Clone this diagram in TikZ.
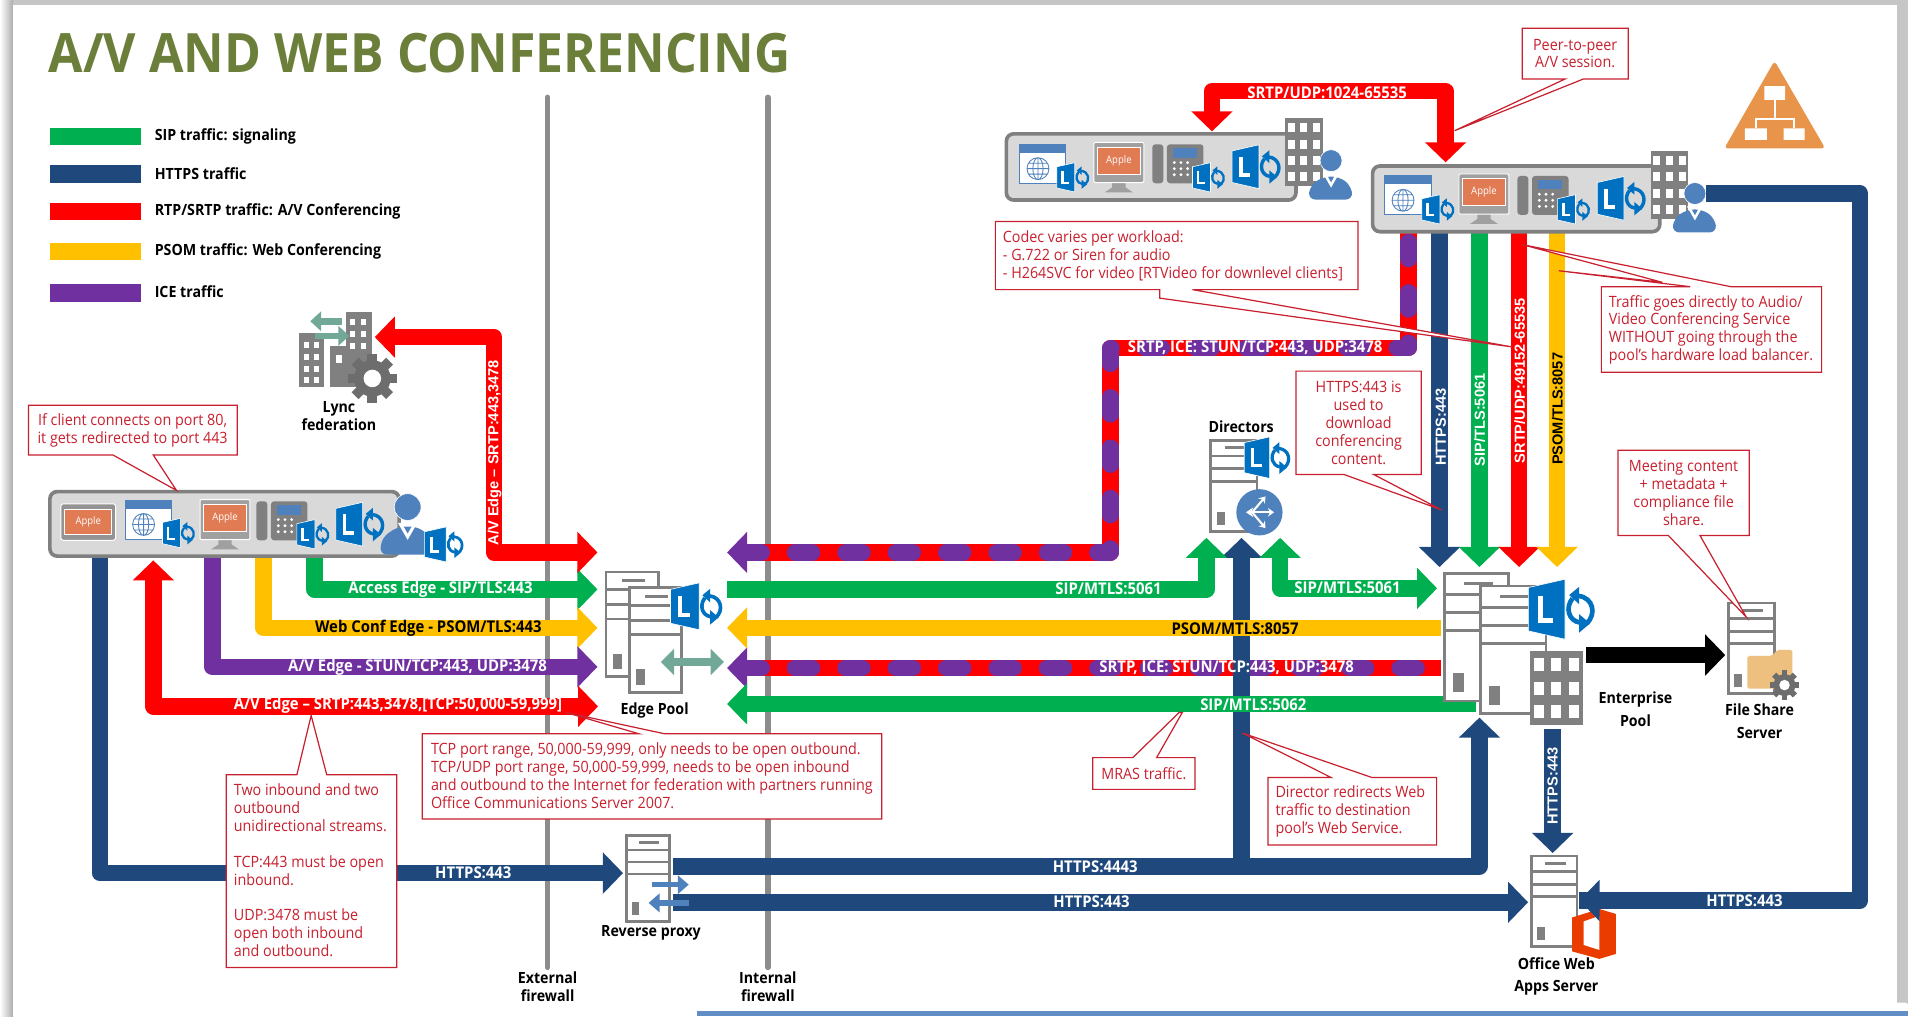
\documentclass[tikz,border=0pt]{standalone}
\usepackage{fontspec}
\setmainfont{Open Sans}[FakeStretch=0.92]
\newfontfamily\arialish{Liberation Sans}
\usetikzlibrary{arrows.meta,calc}
\definecolor{gr}{HTML}{00B050}\definecolor{nv}{HTML}{1F497D}\definecolor{rd}{HTML}{FF0000}
\definecolor{yl}{HTML}{FFC000}\definecolor{pu}{HTML}{7030A0}\definecolor{fw}{HTML}{8C8C8C}
\definecolor{co}{HTML}{C8202F}\definecolor{ttl}{HTML}{6B7F3A}\definecolor{lb}{HTML}{0070C0}
\definecolor{ub}{HTML}{4F81BD}\definecolor{ig}{HTML}{808080}\definecolor{scr}{HTML}{E07B54}
\definecolor{tl}{HTML}{72A898}\definecolor{org}{HTML}{E8944A}\definecolor{fold}{HTML}{EDC07F}
\definecolor{off}{HTML}{EB3C00}\definecolor{bx}{HTML}{D9D9D9}
\tikzset{
 bigtip/.tip={Triangle[width=33pt,length=16.5pt]},
 flow/.style={line width=13.5pt,line join=round},
 thinflow/.style={line width=13.5pt},
 dashice/.style={pu,line width=13.5pt,line cap=round,line join=round,dash pattern=on 14pt off 27.4pt},
 lw/.style={text=white,font=\bfseries\fontsize{13.3}{14}\selectfont,inner sep=0pt},
 lk/.style={text=black,font=\bfseries\fontsize{13.3}{14}\selectfont,inner sep=0pt},
 rotw/.style={text=white,rotate=90,font=\arialish\bfseries\fontsize{12}{14}\selectfont,inner sep=0pt},
 rotk/.style={text=black,rotate=90,font=\arialish\bfseries\fontsize{12}{14}\selectfont,inner sep=0pt},
 capt/.style={text=black,font=\bfseries\fontsize{12.7}{14.5}\selectfont,align=center,inner sep=0pt},
 capwide/.style={text=black,font=\bfseries\fontsize{12.7}{18.5}\selectfont,align=center,inner sep=0pt},
 legtxt/.style={text=black,font=\bfseries\fontsize{12.7}{14}\selectfont,anchor=west,inner sep=0pt},
 cotxt/.style={text=co,font=\fontsize{12.8}{14.7}\selectfont,inner sep=0pt},
 coline/.style={draw=co,fill=white,line width=1pt,line join=miter},
 clientbox/.style={draw=ig,fill=bx,line width=3pt,rounded corners=6pt},
 fwline/.style={draw=fw,line width=4.5pt,line cap=round},
}
% Lync icon, box 39x36 at scale 1
\newcommand\lyncico[3]{\begin{scope}[shift={(#1,#2)},scale=#3]
 \filldraw[fill=lb,draw=white,line width=.5pt] (0,5)--(22,0)--(22,36)--(0,31)--cycle;
 \draw[white,line width=#3*3pt] (7,10)--(7,25)--(15,25);
 \draw[lb,line width=#3*2.8pt] (35,26.5) .. controls (41,21) and (39,11) .. (30,10);
 \fill[lb] (30.5,4.5)--(24.5,9.5)--(30.5,15)--cycle;
 \draw[lb,line width=#3*2.8pt] (26.5,11.5) .. controls (22,17) and (24,25) .. (31,26);
 \fill[lb] (30.5,21)--(37,26.5)--(30.5,32)--cycle;
\end{scope}}
\newcommand\serverico[4]{\begin{scope}[shift={(#1,#2)},xscale=#3,yscale=#4]
 \draw[draw=ig,fill=white,line width=2.3pt] (0,0) rectangle (1,1);
 \draw[ig,line width=2.3pt] (0,.17)--(1,.17) (0,.31)--(1,.31) (0,.45)--(1,.45) (.3,.08)--(.75,.08);
 \fill[ig] (.13,.78) rectangle (.3,.93);
\end{scope}}
\newcommand\browserico[2]{\begin{scope}[shift={(#1,#2)}]
 \draw[draw=ub,fill=white,line width=.8pt] (0,0) rectangle (38,32);
 \fill[ub] (0,0) rectangle (38,7);
 \draw[ub,line width=.7pt] (15,20) circle (9) (6,20)--(24,20) (15,11)--(15,29) (7,15.5)--(23,15.5) (7,24.5)--(23,24.5) (15,20) ellipse (4.2 and 9);
\end{scope}}
\newcommand\monitorico[2]{\begin{scope}[shift={(#1,#2)}]
 \fill[ig!75] (15,33)--(26,33)--(26,37)--(32,41)--(9,41)--(15,37)--cycle;
 \draw[draw=white,fill=ig!75,line width=.8pt,rounded corners=1pt] (0,0) rectangle (41,33);
 \draw[draw=white,fill=scr,line width=.8pt] (3,4) rectangle (38,26);
 \node[text=white,font=\fontsize{8.5}{9}\selectfont,inner sep=0pt] (appleM#1) at (20.5,15) {Apple};
\end{scope}}
\newcommand\tabletico[2]{\begin{scope}[shift={(#1,#2)}]
 \draw[draw=white,fill=ig!85,line width=.8pt,rounded corners=2pt] (0,0) rectangle (45,30);
 \draw[draw=white,fill=scr,line width=.8pt] (3,5) rectangle (42,25);
 \node[text=white,font=\fontsize{8.5}{9}\selectfont,inner sep=0pt] (appleT#1) at (22.5,15) {Apple};
\end{scope}}
\newcommand\phoneico[2]{\begin{scope}[shift={(#1,#2)}]
 \fill[ig,rounded corners=2.5pt] (0,0) rectangle (9,32);
 \fill[ig,rounded corners=2.5pt] (12,0) rectangle (42,32);
 \fill[ub] (17,3) rectangle (37,11);
 \foreach \a in {18,23.5,29}{\foreach \b in {15,20,25}{\fill[white] (\a,\b) circle (1.3);}}
\end{scope}}
\newcommand\userico[3]{\begin{scope}[shift={(#1,#2)},scale=#3]
 \fill[ub,rounded corners=6pt] (0,50)--(2,36)--(15,27)--(31,27)--(43,36)--(45,50)--cycle;
 \filldraw[fill=ub,draw=white,line width=.5pt] (23,11) circle (11);
 \fill[white] (15,24)--(23,38)--(31,24)--(28,24)--(23,33)--(18,24)--cycle;
\end{scope}}
\newcommand\buildico[6]{\begin{scope}[shift={(#1,#2)}]
 \fill[ig] (0,0) rectangle (#3,#4);
 \foreach \i in {1,...,#5}{\foreach \j in {1,...,#6}{
  \fill[white] ({(\i-.78)*#3/#5},{(\j-.78)*(#4-3)/#6+1.5}) rectangle ++({.56*#3/#5},{.56*(#4-3)/#6});}}
\end{scope}}
\newcommand\gearico[3]{\begin{scope}[shift={(#1,#2)},scale=#3]
 \foreach \a in {0,45,...,315}{\fill[ig!85!black,rotate=\a] (-.2,.65) rectangle (.2,1);}
 \fill[ig!85!black] (0,0) circle (.75);
 \fill[white] (0,0) circle (.36);
\end{scope}}
\begin{document}
\begin{tikzpicture}[x=1pt,y=-1pt]
\useasboundingbox (0,0) rectangle (1568,835);
% ---- page
\fill[gray!45] (0,0) rectangle (1568,835);
\shade[left color=white,right color=gray!65] (0,0) rectangle (10.7,835);
\fill[white] (10.7,4) rectangle (1559,835);
\fill[white,rounded corners=2pt] (566,824) rectangle (1568,835);
\fill[ub!90] (573,831) rectangle (1568,835);
% ---- title and legend
\node[text=ttl,font=\bfseries\fontsize{44.6}{46}\selectfont,anchor=west,inner sep=0pt] (title) at (40,44) {A/V AND WEB CONFERENCING};
\fill[gr] (41,105) rectangle (116,119); \node[legtxt] (l1) at (127,112) {SIP traffic: signaling};
\fill[nv] (41,136) rectangle (116,150); \node[legtxt] (l2) at (127,143) {HTTPS traffic};
\fill[rd] (41,167) rectangle (116,181); \node[legtxt] (l3) at (127,174) {RTP/SRTP traffic: A/V Conferencing};
\fill[yl] (41,200) rectangle (116,214); \node[legtxt] (l4) at (127,207) {PSOM traffic: Web Conferencing};
\fill[pu] (41,233) rectangle (116,248); \node[legtxt] (l5) at (127,240) {ICE traffic};
% ---- firewalls
\coordinate (fe1) at (450,80); \coordinate (fe2) at (450,795);
\coordinate (fi1) at (631,80); \coordinate (fi2) at (631,795);
\draw[fwline] (fe1)--(fe2); \draw[fwline] (fi1)--(fi2);
\node[capt] (fwe) at (450,811) {External\\firewall};
\node[capt] (fwi) at (631,811) {Internal\\firewall};
% ---- named ends
\coordinate (c1g) at (258.5,456); \coordinate (c1y) at (216.5,456); \coordinate (c1p) at (174.5,456);
\coordinate (c1r) at (126,460.5); \coordinate (c1n) at (82,456);
\coordinate (eL0) at (491,454); \coordinate (eL1) at (491,484.4); \coordinate (eL2) at (491,516);
\coordinate (eL3) at (491,548); \coordinate (eL4) at (491.5,580.5);
\coordinate (eR0) at (597.5,454); \coordinate (eR1) at (597.5,484.4); \coordinate (eR2) at (597.5,516);
\coordinate (eR3) at (597.5,549); \coordinate (eR4) at (597.5,578.5);
\coordinate (eR0s) at (612,454); \coordinate (eR3s) at (612,549);
\coordinate (eR0h) at (620,454); \coordinate (eR3h) at (620,549);
\coordinate (fedT) at (308,277); \coordinate (fedC) at (406,277);
\coordinate (rpL) at (512,717.5); \coordinate (rpA) at (553,712); \coordinate (rpB) at (553,741.5);
\coordinate (epL2) at (1184,516); \coordinate (epL3) at (1184,549); \coordinate (epL4) at (1213,578.5);
\coordinate (dirL) at (991.4,442); \coordinate (dirN) at (1020.3,442); \coordinate (dirR) at (1052,442);
\coordinate (jn) at (1020.3,712); \coordinate (epS) at (1181,483.5);
\coordinate (epB) at (1215.8,589.7);
\coordinate (owL) at (1255.8,741.5); \coordinate (owT) at (1276,701); \coordinate (epD) at (1276,598.7);
\coordinate (owR) at (1298,740); \coordinate (owRb) at (1330,740); \coordinate (c3u) at (1402,159); \coordinate (rc) at (1528.6,159);
\coordinate (ic1) at (912.5,286); \coordinate (ic2) at (1157.5,191);
\coordinate (p2p1) at (996,108); \coordinate (p2p2) at (1188,133.4); \coordinate (p2pa) at (1188,75); 
\coordinate (bk1) at (1303.7,538.3); \coordinate (fsT) at (1417.8,538.3);
\coordinate (d1) at (1183,191); \coordinate (d2) at (1215.8,191); \coordinate (d3) at (1248.4,191); \coordinate (d4) at (1279.6,191);
\coordinate (t1) at (1183,466); \coordinate (t2) at (1215.8,466); \coordinate (t3) at (1248.4,466); \coordinate (t4) at (1279.6,466);
% ---- ICE + red lines below the navy ones
\draw[flow,rd] (eR0s) -| (ic1) -| (ic2);
\draw[dashice] (eR0s) -| (ic1) -| (ic2);
\draw[thinflow,pu,-{bigtip}] (eR0h) -- (eR0);
\draw[thinflow,rd] (eR3s) -- (epL3);
\draw[dashice] (eR3s) -- (epL3);
\draw[thinflow,pu,-{bigtip}] (eR3h) -- (eR3);
% ---- navy
\draw[thinflow,nv,-{bigtip}] (jn) -- (dirN);
\draw[flow,nv,-{bigtip}] (rpA) -| (epB);
\draw[thinflow,nv,-{bigtip}] (rpB) -- (owL);
\draw[flow,nv,-{bigtip}] (c1n) |- (rpL);
\draw[thinflow,nv,-{bigtip}] (epD) -- (owT);
% ---- left group
\draw[flow,gr,-{bigtip}] (c1g) |- (eL1);
\draw[flow,yl,-{bigtip}] (c1y) |- (eL2);
\draw[flow,pu,-{bigtip}] (c1p) |- (eL3);
\draw[flow,rd,{bigtip}-{bigtip}] (c1r) |- (eL4);
\draw[flow,rd,{bigtip}-{bigtip}] (eL0) -| (fedC) -- (fedT);
% ---- right of edge
\draw[flow,gr,-{bigtip}] (eR1) -| (dirL);
\draw[flow,gr,{bigtip}-{bigtip}] (dirR) |- (epS);
\draw[thinflow,yl,{bigtip}-] (eR2) -- (epL2);
\draw[thinflow,gr,{bigtip}-] (eR4) -- (epL4);
% ---- down arrows and p2p
\draw[thinflow,nv,-{bigtip}] (d1)--(t1);
\draw[thinflow,gr,-{bigtip}] (d2)--(t2);
\draw[thinflow,rd,-{bigtip}] (d3)--(t3);
\draw[thinflow,yl,-{bigtip}] (d4)--(t4);
\draw[flow,rd,{bigtip}-{bigtip}] (p2p1) |- (p2pa) -- (p2p2);
\draw[line width=13.5pt,-{Triangle[width=33pt,length=16.5pt]}] (bk1)--(fsT);
% ---- labels on flows
\node[lw] (a1) at (362,484) {Access Edge - SIP/TLS:443};
\node[lk] (a2) at (352,516) {Web Conf Edge - PSOM/TLS:443};
\node[lw] (a3) at (343,548) {A/V Edge - STUN/TCP:443, UDP:3478};
\node[lw] (a4) at (327,580) {A/V Edge – SRTP:443,3478,[TCP:50,000-59,999]};
\node[lw] (a5) at (389,717) {HTTPS:443};
\node[rotw] (a6) at (406.5,372) {A/V Edge – SRTP:443,3478};
\node[lw] (b1) at (911,484) {SIP/MTLS:5061};
\node[lk] (b2) at (1015,517) {PSOM/MTLS:8057};
\node[lw] (b3) at (1008,549) {SRTP, ICE: STUN/TCP:443, UDP:3478};
\node[lw] (b4) at (1030,579) {SIP/MTLS:5062};
\node[lw] (b5) at (1107.4,483) {SIP/MTLS:5061};
\node[lw] (b6) at (900,712) {HTTPS:4443};
\node[lw] (b7) at (897,741) {HTTPS:443};
\node[lw] (b8) at (1031.5,286) {SRTP, ICE: STUN/TCP:443, UDP:3478};
\node[lw] (b9) at (1090.6,76) {SRTP/UDP:1024-65535};
\node[rotw] (r1) at (1184,351) {HTTPS:443};
\node[rotw] (r2) at (1216,345) {SIP/TLS:5061};
\node[rotw] (r3) at (1249,313) {SRTP/UDP:49152-65535};
\node[rotk] (r4) at (1280,336) {PSOM/TLS:8057};
\node[rotw] (r5) at (1276,646) {HTTPS:443};
% ---- client 1
\draw[clientbox] (41,404) rectangle (328,457);
\tabletico{50}{414}
\browserico{103}{411}\lyncico{133.5}{426}{.67}
\monitorico{164.4}{410.5}
\phoneico{210.7}{412}\lyncico{244}{427}{.67}
\lyncico{276}{412.8}{1}
\userico{312}{405.7}{1}\lyncico{349}{433}{.8}
% ---- client 2
\draw[clientbox] (827,110) rectangle (1065,164.4);
\browserico{838}{118.6}\lyncico{868.5}{133.7}{.67}
\monitorico{899}{117}
\phoneico{947}{118.6}\lyncico{980}{133.7}{.67}
\lyncico{1012.6}{119}{1}
\buildico{1056}{97}{31}{56}{3}{4}
\userico{1075}{123}{.82}
% ---- client 3
\draw[clientbox] (1128,136.4) rectangle (1364,190.4);
\browserico{1138}{144.6}\lyncico{1168.5}{160}{.67}
\monitorico{1199}{143}
\phoneico{1247}{144.6}\lyncico{1280}{160}{.67}
\lyncico{1312.6}{145}{1}
\buildico{1356.5}{124}{31}{56}{3}{4}
\userico{1374}{150}{.82}
% ---- right-hand navy
\draw[flow,nv] (c3u) -- (rc) |- (owR);
\node[lw] (b10) at (1433.6,740) {HTTPS:443};
% ---- orange triangle icon
\fill[org,rounded corners=3pt] (1458.3,50) -- (1500,122) -- (1417,122) -- cycle;
\draw[white,line width=1.3pt] (1458.5,82)--(1458.5,98) (1443,105.5)--(1443,98)--(1474.5,98)--(1474.5,105.5);
\fill[white] (1450,70.7) rectangle (1467,82) (1434,105.5) rectangle (1452,115) (1465.7,105.5) rectangle (1483,115);
% ---- Lync federation
\fill[ig] (246,274) rectangle (266,318);
\fill[ig] (271,284) rectangle (290,318);
\fill[ig] (284,256) rectangle (305.5,318);
\foreach \a in {250,258}{\foreach \b in {281,291,301,310}{\fill[white] (\a,\b) rectangle ++(4,5);}}
\foreach \a in {288,297}{\foreach \b in {262,272,282}{\fill[white] (\a,\b) rectangle ++(4,5);}}
\fill[white] (276,292) rectangle ++(5,6);
\gearico{306}{311}{20}
\draw[tl,line width=5.5pt,-{Triangle[width=16pt,length=9pt]}] (281,264)--(255,264);
\draw[tl,line width=5.5pt,-{Triangle[width=16pt,length=9pt]}] (259,276)--(287,276);
\node[capt] (lyncfed) at (278.5,342) {Lync\\federation};
% ---- Edge pool
\serverico{498}{470}{43}{86}
\serverico{517}{483}{43}{86}
\lyncico{551}{479}{1.07}
\draw[tl,line width=6pt,{Triangle[width=21pt,length=11pt]}-{Triangle[width=21pt,length=11pt]}] (543,544)--(595,544);
\node[capt] (edgep) at (538,584) {Edge Pool};
% ---- reverse proxy
\serverico{515}{686.6}{35}{70.4}
\draw[ub,line width=4.5pt,-{Triangle[width=15pt,length=9pt]}] (536,727)--(566,727);
\draw[ub,line width=4.5pt,-{Triangle[width=15pt,length=9pt]}] (566,742)--(533,742);
\node[capt] (revp) at (535,767) {Reverse proxy};
% ---- Directors
\serverico{995}{362}{38}{75}
\lyncico{1022.5}{359}{.95}
\fill[ub] (1035,421) circle (19);
\draw[white,line width=1.7pt,{Stealth[width=8pt,length=6pt]}-{Stealth[width=7pt,length=5pt]}] (1024,421)--(1047,421);
\draw[white,line width=1.7pt,-{Stealth[width=7pt,length=5pt]}] (1029,421)--(1040,408);
\draw[white,line width=1.7pt,-{Stealth[width=7pt,length=5pt]}] (1029,421)--(1040,434);
\node[capt] (dirs) at (1020,351) {Directors};
% ---- Enterprise pool
\serverico{1187}{471}{53}{105}
\serverico{1216.5}{481.6}{54}{105}
\lyncico{1256}{476}{1.37}
\buildico{1257.5}{535}{43}{61}{3}{3}
\node[capwide] (entp) at (1344,583) {Enterprise\\Pool};
% ---- File share
\serverico{1420.5}{495.6}{37.5}{74.4}
\fill[fold,rounded corners=1.5pt] (1436,539) -- (1456,539) -- (1461,534) -- (1473,534) -- (1473,566) -- (1436,566) -- cycle;
\gearico{1466.5}{563}{12}
\node[capwide] (fss) at (1446,592.5) {File Share\\Server};
% ---- Office web apps
\serverico{1258.5}{703.5}{37.5}{74.5}
\begin{scope}[shift={(1292,747)},xscale=36,yscale=41]
 \fill[off] (0,.17)--(.62,0)--(1,.1)--(1,.9)--(.62,1)--(0,.85)--cycle;
 \fill[white] (.26,.25)--(.62,.14)--(.62,.82)--(.26,.72)--cycle;
\end{scope}
\draw[thinflow,nv,-{bigtip}] (owRb) -- (owR);
\node[capwide] (ows) at (1279,802.5) {Office Web\\Apps Server};
% ---- callouts
\draw[coline] (23.5,333)--(195,333)--(195,374)--(126,374)--(145,403)--(93,374)--(23.5,374)--cycle;
\node[cotxt,align=center] (n1) at (109,353.5) {If client connects on port 80,\\it gets redirected to port 443};
\draw[coline] (186,636.6)--(244,636.6)--(255.7,588)--(268.5,636.6)--(326,636.6)--(326,795)--(186,795)--cycle;
\node[cotxt,align=left,anchor=north west] (n2) at (192,644) {Two inbound and two\\outbound\\unidirectional streams.\\[14.7pt]TCP:443 must be open\\inbound.\\[14.7pt]UDP:3478 must be\\open both inbound\\and outbound.};
\draw[coline] (347,603)--(525,603)--(465,585.5)--(546,603)--(724.6,603)--(724.6,673)--(347,673)--cycle;
\node[cotxt,align=left,anchor=north west] (n3) at (354,610) {TCP port range, 50,000-59,999, only needs to be open outbound.\\TCP/UDP port range, 50,000-59,999, needs to be open inbound\\and outbound to the Internet for federation with partners running\\Office Communications Server 2007.};
\draw[coline] (1251,23.3)--(1338,23.3)--(1338,65)--(1301,65)--(1195.4,107.4)--(1286,65)--(1251,65)--cycle;
\node[cotxt,align=center] (n4) at (1294.5,44) {Peer-to-peer\\A/V session.};
\draw[coline] (818,182)--(1116,182)--(1116,238)--(980,238)--(1242,285)--(953,245)--(953,238)--(818,238)--cycle;
\node[cotxt,align=left,anchor=west] (n5) at (824,210) {Codec varies per workload:\\- G.722 or Siren for audio\\- H264SVC for video [RTVideo for downlevel clients]};
\draw[coline] (1316,235.6)--(1389,235.6)--(1281,222.5)--(1366,232)--(1251,201)--(1422.5,235.6)--(1497,235.6)--(1497,306)--(1316,306)--cycle;
\node[cotxt,align=left,anchor=west] (n6) at (1322,271) {Traffic goes directly to Audio/\\Video Conferencing Service\\WITHOUT going through the\\pool's hardware load balancer.};
\draw[coline] (1065,305)--(1168,305)--(1168,390)--(1129,390)--(1184.6,419)--(1104.7,390)--(1065,390)--cycle;
\node[cotxt,align=center] (n7) at (1116.5,347.5) {HTTPS:443 is\\used to\\download\\conferencing\\content.};
\draw[coline] (1329.7,370)--(1437.6,370)--(1437.6,440)--(1397,440)--(1435,507)--(1371,440)--(1329.7,440)--cycle;
\node[cotxt,align=center] (n8) at (1383.6,405) {Meeting content\\+ metadata +\\compliance file\\share.};
\draw[coline] (898,622.6)--(931,622.6)--(969,585.5)--(971.6,585.5)--(950.5,622.6)--(982,622.6)--(982,648.7)--(898,648.7)--cycle;
\node[cotxt] (n9) at (940,635.6) {MRAS traffic.};
\draw[coline] (1042,639)--(1094,639)--(1021,602.4)--(1127.6,639)--(1180.6,639)--(1180.6,694.5)--(1042,694.5)--cycle;
\node[cotxt,align=left,anchor=west] (n10) at (1048,667) {Director redirects Web\\traffic to destination\\pool's Web Service.};
\end{tikzpicture}
\end{document}
